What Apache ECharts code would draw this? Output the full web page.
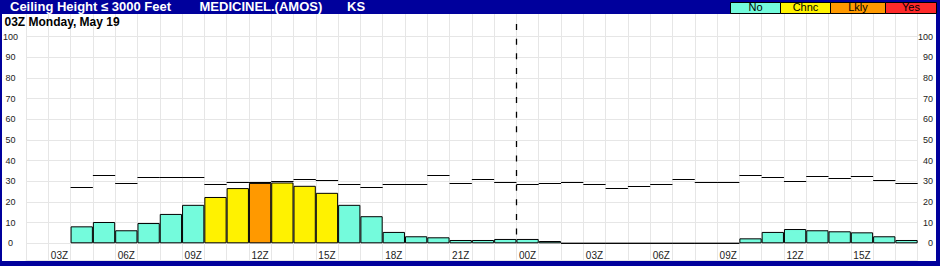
<!DOCTYPE html>
<html>
<head>
<meta charset="utf-8">
<script src="https://cdn.jsdelivr.net/npm/echarts@6/dist/echarts.min.js"></script>
<style>
html,body{margin:0;padding:0;}
#wrap{position:relative;width:940px;height:266px;background:#00009c;overflow:hidden;}
#inner{position:absolute;left:2px;top:14px;width:934px;height:247px;background:#fff;}
#chart{position:absolute;left:0;top:0;width:940px;height:266px;}
</style>
</head>
<body>
<div id="wrap"><div id="inner"></div><div id="chart"></div></div>
<script>
// Hour bands (one per hour)
const categories = ["02Z","03Z","04Z","05Z","06Z","07Z","08Z","09Z","10Z","11Z","12Z","13Z","14Z","15Z","16Z","17Z","18Z","19Z","20Z","21Z","22Z","23Z","00Z","01Z","02Z","03Z","04Z","05Z","06Z","07Z","08Z","09Z","10Z","11Z","12Z","13Z","14Z","15Z","16Z","17Z"];
// Probability (%) of ceiling <= 3000 ft
const probValues = [null,null,8.2,10.3,6.3,9.8,14.2,18.6,22.4,26.7,29.2,29.4,27.8,24.4,18.6,13.1,5.5,3.4,2.9,1.6,1.6,2.1,2.1,1.1,0,0,0,0,0,0,0,0,2.4,5.5,6.9,6.3,5.8,5.3,3.4,1.6];
// Category of each bar
const probClass = [null,null,"No","No","No","No","No","No","Chnc","Chnc","Lkly","Chnc","Chnc","Chnc","No","No","No","No","No","No","No","No","No","No","No","No","No","No","No","No","No","No","No","No","No","No","No","No","No","No"];
// Reference level segment per hour
const refValues = [null,null,27.1,32.6,29.1,31.7,31.7,31.7,28.6,29.6,29.5,30.0,31.0,30.5,28.6,27.1,28.3,28.3,32.6,29.1,31.0,29.6,28.6,29.1,29.6,28.6,26.7,27.7,28.3,31.0,29.6,29.6,33.0,32.0,30.0,32.5,31.5,32.5,30.5,29.1];
// Day break (between 23Z and 00Z)
const dayBreakIndex = 21;
const yTicks = [0,10,20,30,40,50,60,70,80,90,100];
const legendLabels = ["No","Chnc","Lkly","Yes"];
const titleText = "Ceiling Height \u2264 3000 Feet";
const stationText = "MEDICINEL.(AMOS)";
const stateText = "KS";
const dateText = "03Z Monday, May 19";

const classColors = {No:"#74fbdc", Chnc:"#fff200", Lkly:"#ff9900", Yes:"#ff2a2a"};
const FONT = "Liberation Sans, Arial, sans-serif";
const gridCol = "#e6e6e6";

const chart = echarts.init(document.getElementById('chart'), null, {renderer:'svg', width:940, height:266});

const refData = refValues.map((v,i)=> v==null ? null : [i, v]).filter(d=>d);
const barData = probValues.map((v,i)=> v==null ? '-' : v);

function crisp(y){ return Math.round(y - 0.5) + 0.5; }

const legendBoxes = [[730,2,50,11],[780,2,50,11],[830,2,55,11],[885,2,51,11]];
const graphics = [];
legendLabels.forEach((lab,i)=>{
  const b = legendBoxes[i];
  graphics.push({type:'rect', shape:{x:b[0]+0.5,y:b[1]+0.5,width:b[2],height:b[3]}, style:{fill:classColors[lab], stroke:'#000', lineWidth:1}, z:100});
  graphics.push({type:'text', x:b[0]+b[2]/2+0.5, y:7, style:{text:lab, fill:'#000', fontSize:11, fontFamily:FONT, align:'center', verticalAlign:'middle'}, z:101});
});
graphics.push({type:'text', x:10, y:6.5, style:{text:titleText, fill:'#fff', fontSize:13, fontWeight:'bold', fontFamily:FONT, align:'left', verticalAlign:'middle'}, z:101});
graphics.push({type:'text', x:199.5, y:6.5, style:{text:stationText, fill:'#fff', fontSize:13, fontWeight:'bold', fontFamily:FONT, align:'left', verticalAlign:'middle'}, z:101});
graphics.push({type:'text', x:347, y:6.5, style:{text:stateText, fill:'#fff', fontSize:13, fontWeight:'bold', fontFamily:FONT, align:'left', verticalAlign:'middle'}, z:101});
graphics.push({type:'text', x:4.5, y:21.5, style:{text:dateText, fill:'#000', fontSize:12, fontWeight:'bold', fontFamily:FONT, align:'left', verticalAlign:'middle'}, z:101});

const option = {
  animation:false,
  backgroundColor:'transparent',
  graphic: graphics,
  grid:[
    {left:26, right:22.3, top:36.5, bottom:22.7},
    {left:26, right:22.3, top:14, bottom:6}
  ],
  xAxis:[
    {type:'category', gridIndex:0, data:categories, boundaryGap:true,
     axisLine:{show:false}, axisTick:{show:false}, splitLine:{show:false},
     axisLabel:{interval:(i)=> i%3===1, color:'#222', fontSize:10, fontFamily:FONT, margin:7}},
    {type:'category', gridIndex:1, data:categories, boundaryGap:true,
     axisLine:{show:true, lineStyle:{color:gridCol}}, axisTick:{show:false}, axisLabel:{show:false},
     splitLine:{show:true, interval:0, lineStyle:{color:gridCol, width:1}}}
  ],
  yAxis:[
    {type:'value', gridIndex:0, position:'left', min:0, max:100, interval:10,
     axisLine:{show:false}, axisTick:{show:false},
     splitLine:{show:true, lineStyle:{color:gridCol, width:1}},
     axisLabel:{color:'#222', fontSize:9, fontFamily:FONT, align:'center', margin:15.5}},
    {type:'value', gridIndex:0, position:'right', min:0, max:100, interval:10,
     axisLine:{show:false}, axisTick:{show:false}, splitLine:{show:false},
     axisLabel:{color:'#222', fontSize:9, fontFamily:FONT, align:'right', margin:15.3}},
    {type:'value', gridIndex:1, show:false, min:0, max:1, splitLine:{show:false}}
  ],
  series:[
    {type:'bar', xAxisIndex:0, yAxisIndex:0, data:barData, barWidth:'100%', barCategoryGap:0,
     itemStyle:{color:(p)=> classColors[probClass[p.dataIndex]] || classColors.No, borderColor:'#000', borderWidth:1},
     z:3},
    {type:'custom', xAxisIndex:0, yAxisIndex:0, data:refData, z:4,
     renderItem:(params, api)=>{
       const p = api.coord([api.value(0), api.value(1)]);
       const w = api.size([1,0])[0];
       const y = crisp(p[1]);
       return {type:'line', shape:{x1:p[0]-w/2, y1:y, x2:p[0]+w/2, y2:y}, style:{stroke:'#000', lineWidth:1}};
     }},
    {type:'custom', xAxisIndex:0, yAxisIndex:0, data:[[dayBreakIndex, 0, 106]], z:5, clip:false,
     renderItem:(params, api)=>{
       const pTop = api.coord([api.value(0), api.value(2)]);
       const pBot = api.coord([api.value(0), api.value(1)]);
       const w = api.size([1,0])[0];
       const x = Math.round(pTop[0] + w/2 - 0.5) + 0.5;
       return {type:'line', shape:{x1:x, y1:pTop[1], x2:x, y2:pBot[1]}, style:{stroke:'#000', lineWidth:1.3, lineDash:[6,8.6]}};
     }}
  ]
};
chart.setOption(option);
</script>
</body>
</html>
